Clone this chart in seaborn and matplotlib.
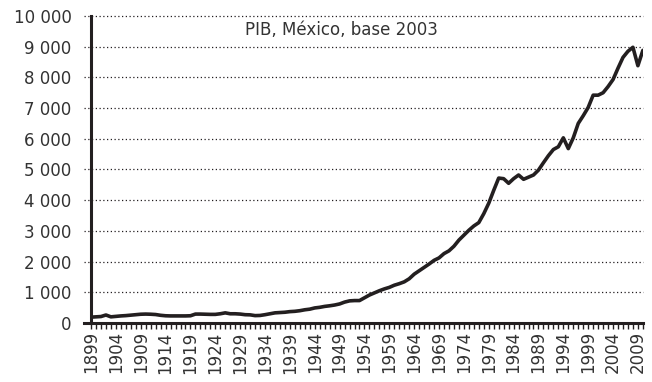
import numpy as np
import matplotlib
matplotlib.use("Agg")
import matplotlib.pyplot as plt
import matplotlib.ticker as mticker
import pandas as pd
import seaborn as sns

# Data (PIB, México, base 2003)
years = list(range(1899, 2011))
pib = [
    190, 200, 210, 260, 200, 215, 230, 240, 255, 270,      # 1899-1908
    285, 290, 285, 275, 250, 235, 230, 230, 230, 230,      # 1909-1918
    235, 290, 290, 285, 280, 280, 300, 330, 300, 300,      # 1919-1928
    290, 270, 265, 240, 245, 270, 300, 330, 340, 350,      # 1929-1938
    370, 380, 400, 430, 450, 490, 510, 540, 560, 585,      # 1939-1948
    620, 680, 720, 730, 730, 820, 910, 980, 1050, 1110,    # 1949-1958
    1160, 1230, 1280, 1340, 1440, 1590, 1700, 1810, 1920, 2040,  # 1959-1968
    2120, 2260, 2350, 2500, 2700, 2860, 3020, 3160, 3270, 3560,  # 1969-1978
    3900, 4320, 4720, 4700, 4550, 4700, 4820, 4680, 4750, 4820,  # 1979-1988
    4980, 5220, 5450, 5650, 5740, 6030, 5680, 6030, 6500, 6750,  # 1989-1998
    7020, 7420, 7420, 7500, 7700, 7930, 8300, 8650, 8850, 8980,  # 1999-2008
    8380, 8880,                                                  # 2009-2010
]
title_text = "PIB, México, base 2003"
y_ticks = list(range(0, 10001, 1000))

df = pd.DataFrame({"year": years, "pib": pib})

sns.set_style("white")
plt.rcParams["font.family"] = ["DejaVu Sans"]
ink = "#231f20"
txt = "#333333"

fig = plt.figure(figsize=(6.52, 3.82), dpi=100)
ax = fig.add_axes([0.1396, 0.1545, 0.8464, 0.8037])

# dotted gridlines, running a little past the left spine like the original
tick_out = 7 / 552
for v in y_ticks[1:]:
    ax.plot([-tick_out, 1], [v, v], transform=ax.get_yaxis_transform(),
            linestyle=(0, (1, 2)), color=ink, linewidth=0.9, clip_on=False, zorder=1)

sns.lineplot(data=df, x="year", y="pib", ax=ax, color=ink, linewidth=2.6, zorder=3)

ax.set_xlim(1899, 2010)
ax.set_ylim(0, 10000)
ax.set_xlabel("")
ax.set_ylabel("")

# y axis
ax.set_yticks(y_ticks)
ax.yaxis.set_major_formatter(mticker.FuncFormatter(lambda v, p: f"{int(v):,}".replace(",", " ")))
ax.grid(False)

# x axis: labels every 5 years, tick every year
ax.set_xticks(list(range(1899, 2010, 5)))
ax.set_xticks(years, minor=True)
ax.set_xticklabels([str(y) for y in range(1899, 2010, 5)], rotation=90)

ax.tick_params(axis="x", which="both", direction="out", length=4, width=1,
               color=ink, bottom=True, labelsize=12, labelcolor=txt, pad=2)
ax.tick_params(axis="y", which="major", length=0, left=False,
               labelsize=12, labelcolor=txt, pad=14)

for s in ["top", "right"]:
    ax.spines[s].set_visible(False)
for s in ["left", "bottom"]:
    ax.spines[s].set_color(ink)
    ax.spines[s].set_linewidth(2.2)
ax.spines["bottom"].set_bounds(1899 - 7 / 552 * 111, 2010)

ax.text(0.454, 0.954, title_text, transform=ax.transAxes, ha="center",
        va="center", fontsize=12, color=txt)

fig.savefig("out.png", dpi=100)
